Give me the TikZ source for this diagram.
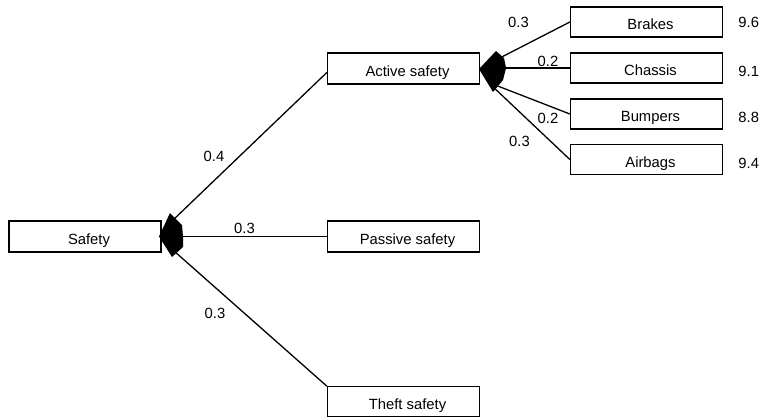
\documentclass[tikz,border=0pt]{standalone}
\usepackage{fontspec}
\setmainfont{Liberation Sans}
\begin{document}
\begin{tikzpicture}[x=1pt,y=-1pt,
  box/.style={draw, line width=1.3pt, minimum width=152pt, minimum height=31pt,
    inner sep=0pt, text height=15pt, text depth=0pt,
    font=\fontsize{14.8}{16}\selectfont,
    execute at begin node={\hspace*{8pt}}},
  leaf/.style={box, minimum height=30pt},
  num/.style={inner sep=0pt, text height=10.6pt, text depth=0pt,
    font=\fontsize{14.8}{16}\selectfont},
  link/.style={line width=1.3pt},
  hub/.style={fill=black}]
\useasboundingbox (0,0) rectangle (772,418);

% criteria boxes
\node[box]  (safety)  at (85,236.5)   {Safety};
\node[box]  (active)  at (403.5,68.5) {Active safety};
\node[box]  (passive) at (403.5,236.5){Passive safety};
\node[leaf] (theft)   at (403.5,401.8){Theft safety};
\node[leaf] (brakes)  at (646.5,22)   {Brakes};
\node[leaf] (chassis) at (646.5,68)   {Chassis};
\node[leaf] (bumpers) at (646.5,114)  {Bumpers};
\node[leaf] (airbags) at (646.5,159.5){Airbags};

% branch origins inside the hubs
\coordinate (s1) at (172,221);
\coordinate (s2) at (176,236.5);
\coordinate (s3) at (174,251);
\coordinate (a1) at (492,62);
\coordinate (a2) at (492,68);
\coordinate (a3) at (490,83);
\coordinate (a4) at (490,84);

% branches
\draw[link] (s1) -- ([yshift=-4pt]active.west);
\draw[link] (s2) -- (passive.west);
\draw[link] (s3) -- (theft.north west);
\draw[link] (a1) -- (brakes.west);
\draw[link] (a2) -- (chassis.west);
\draw[link] (a3) -- (bumpers.west);
\draw[link] (a4) -- (airbags.west);

% aggregation hubs
\fill[hub] (159,236.5) -- (170,213) -- (182,225) -- (183,237) -- (183,247) -- (172,257) -- cycle;
\fill[hub] (479,69) -- (496,51) -- (504,58) -- (506,68) -- (503,80) -- (493,92) -- cycle;

% weights
\node[num] (w1) at (214,156.5)  {0.4};
\node[num] (w2) at (244.5,228)  {0.3};
\node[num] (w3) at (215,313.5)  {0.3};
\node[num] (w4) at (518.5,22)   {0.3};
\node[num] (w5) at (548,61)     {0.2};
\node[num] (w6) at (548,118.5)  {0.2};
\node[num] (w7) at (519.5,141)  {0.3};

% scores
\node[num] (v1) at (748.7,22.5)  {9.6};
\node[num] (v2) at (748.7,71.5)  {9.1};
\node[num] (v3) at (748.7,117)   {8.8};
\node[num] (v4) at (748.7,163.5) {9.4};
\end{tikzpicture}
\end{document}
